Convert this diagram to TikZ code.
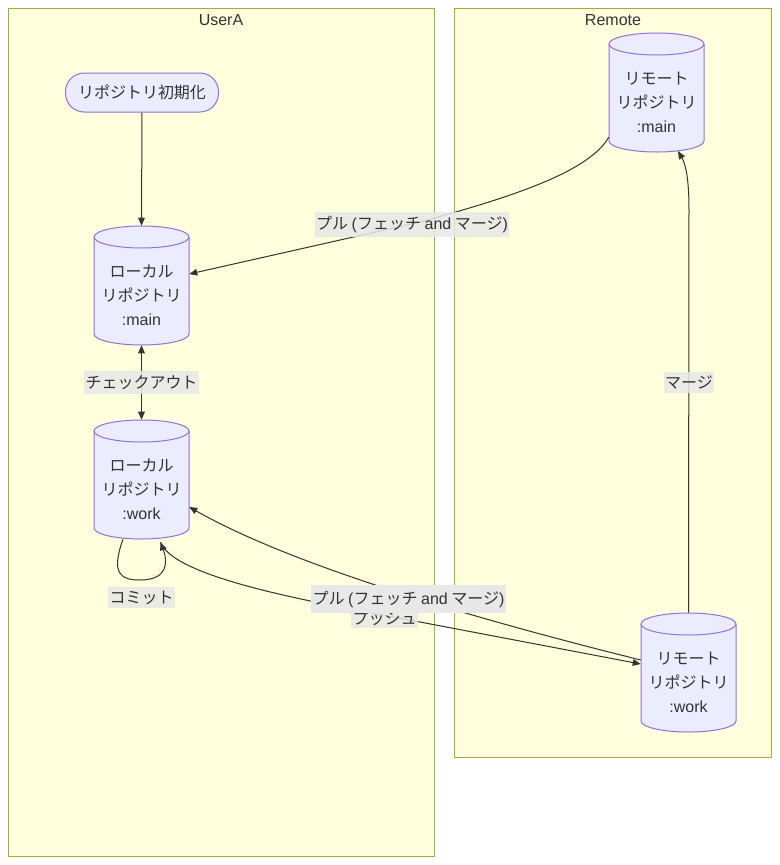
\documentclass[tikz,border=0pt]{standalone}
\usepackage{fontspec}
\setmainfont{Liberation Sans}
\newfontfamily\jp{Noto Sans CJK JP}
\usetikzlibrary{arrows.meta,calc}
\definecolor{clfill}{HTML}{FFFFDE}
\definecolor{clline}{HTML}{AAAA33}
\definecolor{ndfill}{HTML}{ECECFF}
\definecolor{ndline}{HTML}{9370DB}
\definecolor{txt}{HTML}{333333}
\definecolor{lblbg}{HTML}{E8E8E8}
\tikzset{
  cluster/.style={draw=clline,fill=clfill,line width=0.75pt},
  ctitle/.style={text=txt,font=\fontsize{12}{14}\selectfont,inner sep=0pt},
  cylfill/.style={fill=ndfill,draw=ndline,line width=0.75pt},
  cylbox/.style={rectangle,minimum width=71.25pt,minimum height=89.25pt,inner sep=0pt},
  cyltext/.style={text=txt,align=center,font=\fontsize{12}{18}\selectfont,inner sep=0pt},
  stadium/.style={draw=ndline,fill=ndfill,line width=0.75pt,rounded corners=14pt,
     minimum width=114.75pt,minimum height=29.25pt,text=txt,font=\fontsize{12}{14}\selectfont},
  edge/.style={draw=txt,line width=0.75pt,-{Triangle[length=6pt,width=5pt]}},
  edgeboth/.style={draw=txt,line width=0.75pt,{Triangle[length=6pt,width=5pt]}-{Triangle[length=6pt,width=5pt]}},
  elabel/.style={fill=lblbg,fill opacity=0.85,text opacity=1,text=txt,
     font=\fontsize{12}{14}\selectfont,inner xsep=1pt,inner ysep=3pt},
}
\newcommand\mycyl[5]{%
  \path[cylfill] (#2-47.5,#3+11) -- (#2-47.5,#4-11)
     arc[start angle=180,end angle=360,x radius=35.625pt,y radius=8.25pt]
     -- (#2+47.5,#3+11)
     arc[start angle=0,end angle=180,x radius=35.625pt,y radius=8.25pt] -- cycle;
  \draw[draw=ndline,line width=0.75pt] (#2-47.5,#3+11)
     arc[start angle=180,end angle=360,x radius=35.625pt,y radius=8.25pt];
  \node[cylbox] (#1) at (#2,{(#3+#4)/2}) {};
  \node[cyltext] (#1t) at (#2,{(#3+#4)/2+9.5}) {#5};
}
\begin{document}
\begin{tikzpicture}[x=0.75pt,y=-0.75pt]
\useasboundingbox (0,0) rectangle (780,865);
% clusters
\path[cluster] (8,8) rectangle (434,856);
\node[ctitle] (tUser) at (221,20) {UserA};
\path[cluster] (454,8) rectangle (771,757);
\node[ctitle] (tRemote) at (613,20) {Remote};
% nodes
\node[stadium] (init) at (142,92.5) {\jp リポジトリ初期化};
\mycyl{lm}{141.5}{226}{345}{\jp ローカル\\\jp リポジトリ\\:main}
\mycyl{lw}{141.5}{420}{539}{\jp ローカル\\\jp リポジトリ\\:work}
\mycyl{rm}{656.5}{33}{152}{\jp リモート\\\jp リポジトリ\\:main}
\mycyl{rw}{688.5}{613}{732}{\jp リモート\\\jp リポジトリ\\:work}
% edges
\draw[edge] (init.south) -- (lm.north);
\draw[edge] ($(rm.south west)+(0,-15)$) .. controls (590,170) and (520,195) .. (420,222) -- ($(lm.east)+(0,-11.5)$);
\node[elabel] (l1) at (412,224.5) {\jp プル {\normalfont (}フェッチ {\normalfont and} マージ{\normalfont )}};
\draw[edgeboth] (lm.south) -- (lw.north);
\node[elabel] (l2) at (141.5,382.5) {\jp チェックアウト};
\draw[edge] ($(lw.south)+(-18.5,0)$) .. controls (110,575) and (122,580) .. (140,580) .. controls (168,580) and (168,562) .. ($(lw.south)+(19,3)$);
\node[elabel] (l3) at (141.5,597.5) {\jp コミット};
\draw[edge] ($(rw.west)+(0,-12.5)$) .. controls (500,625) and (300,570) .. ($(lw.east)+(0,27.5)$);
\draw[edge] ($(lw.south)+(19,3)$) .. controls (175,580) and (330,605) .. (420,622) -- ($(rw.west)+(0,-8.5)$);
\node[elabel,inner ysep=1.5pt] (l5) at (384.5,618.5) {\jp プッシュ};
\node[elabel,fill opacity=1,inner ysep=4pt] (l4) at (408.5,599) {\jp プル {\normalfont (}フェッチ {\normalfont and} マージ{\normalfont )}};
\draw[edge] (rw.north) -- (689,210) .. controls (689,180) and (686,165) .. (678,151);
\node[elabel] (l6) at (689,382.5) {\jp マージ};
\end{tikzpicture}
\end{document}
